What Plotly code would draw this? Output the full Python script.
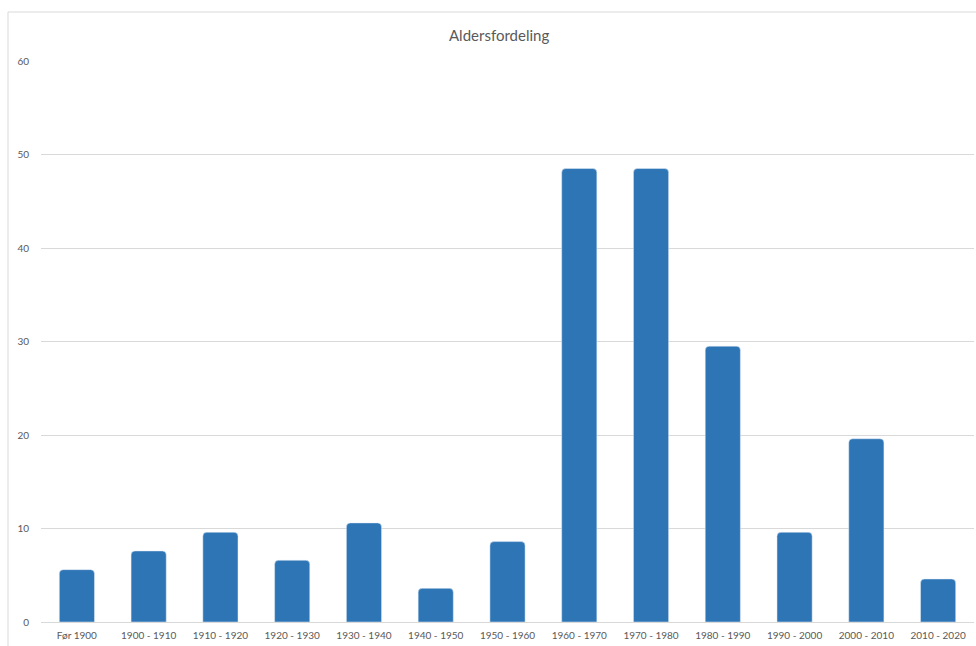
import plotly.graph_objects as go

categories = ["Før 1900", "1900 - 1910", "1910 - 1920", "1920 - 1930", "1930 - 1940",
              "1940 - 1950", "1950 - 1960", "1960 - 1970", "1970 - 1980", "1980 - 1990",
              "1990 - 2000", "2000 - 2010", "2010 - 2020"]
values = [5.6, 7.6, 9.6, 6.6, 10.6, 3.6, 8.6, 48.5, 48.5, 29.5, 9.6, 19.6, 4.6]
y_ticks = [0, 10, 20, 30, 40, 50, 60]

fig = go.Figure(go.Bar(
    x=categories, y=values,
    marker=dict(color="#2E75B6", cornerradius=4),
))

L, R, T, B = 41, 2, 61, 24
fig.update_layout(
    width=976, height=646,
    margin=dict(l=L, r=R, t=T, b=B, autoexpand=False),
    paper_bgcolor="white", plot_bgcolor="white",
    bargap=0.51,
    showlegend=False,
    font=dict(family="Lato, Open Sans, sans-serif", color="#595959"),
    annotations=[dict(text="Aldersfordeling", xref="paper", yref="paper",
                      x=0.491, y=1.0 + (61 - 35) / 561, xanchor="center", yanchor="middle",
                      showarrow=False, font=dict(size=15, color="#595959"))],
    shapes=[
        dict(type="line", xref="paper", yref="paper", x0=(8 - 41) / 933, x1=1.05,
             y0=(622 - 12) / 561, y1=(622 - 12) / 561, line=dict(color="#d9d9d9", width=1)),
        dict(type="line", xref="paper", yref="paper", x0=(8 - 41) / 933, x1=(8 - 41) / 933,
             y0=(622 - 12) / 561, y1=-0.1, line=dict(color="#d9d9d9", width=1)),
    ],
)
fig.update_xaxes(showgrid=False, showline=True, linecolor="#d9d9d9", linewidth=1,
                 tickfont=dict(size=10, color="#595959"), ticks="", ticklabelstandoff=4,
                 automargin=False)
fig.update_yaxes(range=[0, 60], tickvals=y_ticks, showgrid=True, gridcolor="#d9d9d9",
                 gridwidth=1, zeroline=False, showline=False, ticks="",
                 ticklabelstandoff=11, tickfont=dict(size=10, color="#595959"), automargin=False)

fig.write_html("out.html")
